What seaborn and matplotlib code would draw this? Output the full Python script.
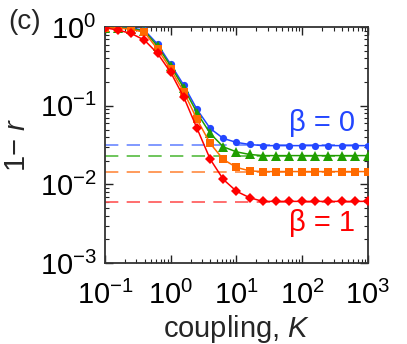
import numpy as np
import pandas as pd
import matplotlib
matplotlib.use("Agg")
import matplotlib.pyplot as plt
import seaborn as sns

# coupling values (log-spaced)
coupling = [0.1, 0.158, 0.251, 0.398, 0.631, 1.0, 1.585, 2.512, 3.981, 6.31,
            10.0, 15.85, 25.12, 39.81, 63.1, 100.0, 158.5, 251.2, 398.1, 631.0, 1000.0]

# 1 - r for each beta
beta0 = [0.991, 0.99, 0.971, 0.916, 0.608, 0.336, 0.182, 0.090, 0.0516, 0.0385,
         0.0343, 0.0323, 0.0312, 0.0312, 0.0312, 0.0312, 0.0312, 0.0312, 0.0312, 0.0312, 0.0312]
beta_a = [0.99, 0.985, 0.96, 0.89, 0.573, 0.319, 0.168, 0.0815, 0.0446, 0.0301,
          0.0260, 0.0241, 0.0233, 0.0233, 0.0233, 0.0233, 0.0233, 0.0233, 0.0233, 0.0233, 0.0233]
beta_b = [0.985, 0.975, 0.94, 0.86, 0.525, 0.293, 0.149, 0.0672, 0.0333, 0.0208,
          0.0165, 0.0149, 0.0146, 0.0146, 0.0146, 0.0146, 0.0146, 0.0146, 0.0146, 0.0146, 0.0146]
beta1 = [0.985, 0.916, 0.832, 0.684, 0.463, 0.266, 0.128, 0.0516, 0.0210, 0.0116,
         0.0082, 0.0068, 0.0061, 0.0061, 0.0061, 0.0061, 0.0061, 0.0061, 0.0061, 0.0061, 0.0061]

# asymptotic levels (dashed lines)
asymptotes = [0.0315, 0.0233, 0.0146, 0.0060]

line_colors = ["#2346ff", "#1f9e00", "#ff6a00", "#ff0000"]
dash_colors = ["#6b88ff", "#55bb40", "#ff8a40", "#ff5555"]
markers = ["o", "^", "s", "D"]
msizes = [5.2, 6.8, 5.4, 5.6]

plt.rcParams["mathtext.fontset"] = "custom"
plt.rcParams["mathtext.rm"] = "Liberation Sans"
plt.rcParams["mathtext.it"] = "Liberation Sans:italic"
sns.set_style("ticks")
plt.rcParams["font.family"] = ["Liberation Sans", "DejaVu Sans"]

fig = plt.figure(figsize=(4.07, 3.44), dpi=100)
ax = fig.add_axes([0.258, 0.235, 0.646, 0.686])

for lvl, c in zip(asymptotes, dash_colors):
    ax.axhline(lvl, color=c, lw=1.2, dashes=(8, 5), zorder=1)

series = [beta0, beta_a, beta_b, beta1]
for vals, c, m, ms in zip(series, line_colors, markers, msizes):
    df = pd.DataFrame({"K": coupling, "y": vals})
    sns.lineplot(data=df, x="K", y="y", ax=ax, color=c, marker=m,
                 markersize=ms, markeredgewidth=0, lw=1.1, zorder=3)

ax.set_xscale("log")
ax.set_yscale("log")
ax.set_xlim(0.1, 1000)
ax.set_ylim(1e-3, 1)
ax.set_xticks([0.1, 1, 10, 100, 1000])
ax.set_xticklabels([r"$10^{-1}$", r"$10^{0}$", r"$10^{1}$", r"$10^{2}$", r"$10^{3}$"])
ax.set_yticks([1e-3, 1e-2, 1e-1, 1])
ax.set_yticklabels([r"$10^{-3}$", r"$10^{-2}$", r"$10^{-1}$", r"$10^{0}$"])

ax.tick_params(which="both", direction="in", top=True, right=True,
               colors="#222222", labelcolor="black")
ax.tick_params(which="major", length=6, width=1.0, labelsize=21)
ax.tick_params(axis="x", which="major", pad=13)
ax.tick_params(axis="y", which="major", pad=6)
ax.tick_params(which="minor", length=3, width=0.8)
for s in ax.spines.values():
    s.set_linewidth(1.3)
    s.set_color("#333333")

ax.set_xlabel(r"coupling, $K$", fontsize=21, labelpad=2)
ax.set_ylabel(r"1$-$ $r$", fontsize=21, labelpad=6)

ax.text(0.825, 0.593, "β = 0", color=line_colors[0], fontsize=21,
        ha="center", va="center", transform=ax.transAxes)
ax.text(0.825, 0.17, "β = 1", color=line_colors[3], fontsize=21,
        ha="center", va="center", transform=ax.transAxes)

fig.text(0.02, 0.935, "(c)", fontsize=20, ha="left", va="center")

fig.savefig("out.png", dpi=100)
